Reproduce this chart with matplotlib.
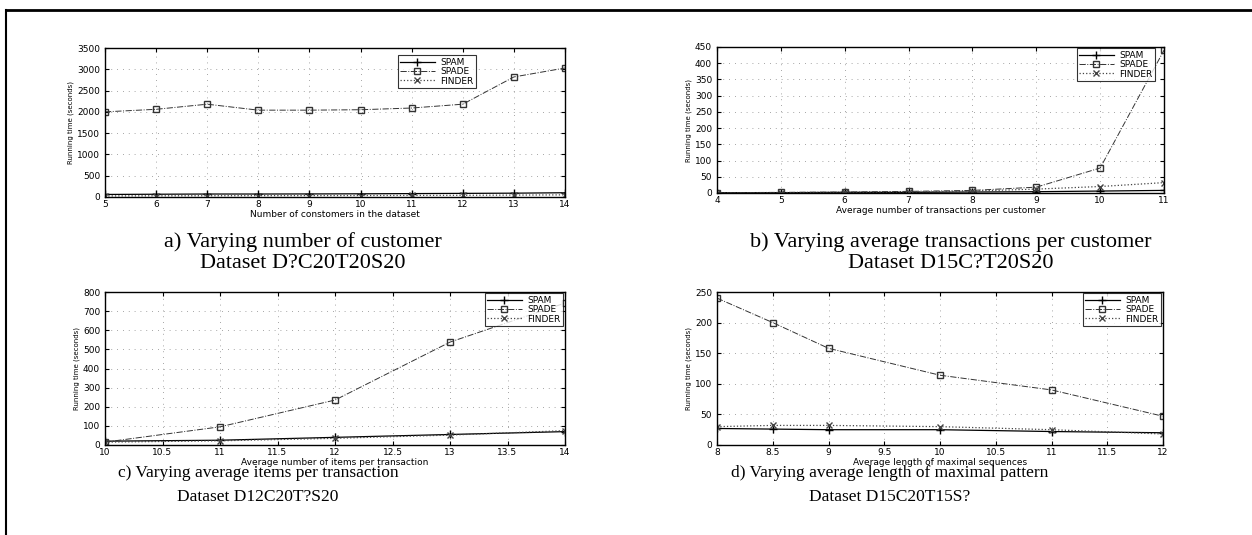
import matplotlib
matplotlib.use("Agg")
import matplotlib.pyplot as plt
from matplotlib.lines import Line2D
from matplotlib.ticker import FormatStrFormatter

# ---- data ----
a_x = [5, 6, 7, 8, 9, 10, 11, 12, 13, 14]
a_spam = [60, 65, 70, 70, 72, 75, 80, 85, 90, 100]
a_spade = [2000, 2060, 2180, 2040, 2040, 2050, 2090, 2180, 2820, 3030]
a_finder = [25, 28, 30, 32, 33, 35, 38, 40, 45, 50]

b_x = [4, 5, 6, 7, 8, 9, 10, 11]
b_spam = [1, 1, 2, 2, 3, 4, 6, 8]
b_spade = [1, 2, 3, 5, 8, 18, 77, 440]
b_finder = [1, 1, 2, 3, 6, 12, 20, 32]

c_x = [10, 11, 12, 13, 14]
c_spam = [20, 25, 40, 55, 70]
c_spade = [15, 95, 235, 538, 742]
c_finder = [15, 22, 35, 52, 75]

d_x = [8, 8.5, 9, 10, 11, 12]
d_spam = [27, 26, 25, 25, 22, 20]
d_spade = [240, 200, 158, 114, 90, 47]
d_finder = [30, 32, 32, 30, 25, 18]

series_names = ["SPAM", "SPADE", "FINDER"]

a_title = ["a) Varying number of customer", "Dataset D?C20T20S20"]
b_title = ["b) Varying average transactions per customer", "Dataset D15C?T20S20"]
c_title = ["c) Varying average items per transaction", "Dataset D12C20T?S20"]
d_title = ["d) Varying average length of maximal pattern", "Dataset D15C20T15S?"]

a_xlabel = "Number of constomers in the dataset"
b_xlabel = "Average number of transactions per customer"
c_xlabel = "Average number of items per transaction"
d_xlabel = "Average length of maximal sequences"
ylabel = "Running time (seconds)"

# ---- figure ----
fig = plt.figure(figsize=(12.52, 5.35), dpi=100)
W, H = 1252, 535

def rect(x0, y0, x1, y1):
    return [x0 / W, 1 - y1 / H, (x1 - x0) / W, (y1 - y0) / H]

styles = [
    dict(color="black", linestyle="-", marker="+", markersize=6, linewidth=0.9),
    dict(color="#333333", linestyle="-.", marker="s", markersize=4, markerfacecolor="none", linewidth=0.7),
    dict(color="#444444", linestyle=":", marker="x", markersize=4, linewidth=0.9),
]

def panel(r, x, ys, xlim, ylim, xticks, yticks, xlabel, leg_box):
    ax = fig.add_axes(r)
    for y, st, name in zip(ys, styles, series_names):
        ax.plot(x, y, label=name, **st)
    ax.set_xlim(*xlim)
    ax.set_ylim(*ylim)
    ax.set_xticks(xticks)
    ax.set_yticks(yticks)
    ax.xaxis.set_major_formatter(FormatStrFormatter("%g"))
    ax.grid(True, linestyle=(0, (1, 6)), color="#888888", linewidth=0.6)
    ax.tick_params(direction="in", top=True, right=True, labelsize=6.5, length=3)
    ax.tick_params(axis="x", pad=2.5)
    ax.tick_params(axis="y", pad=3.5)
    ax.set_xlabel(xlabel, fontsize=6.5, labelpad=0.5)
    ax.set_ylabel(ylabel, fontsize=5, labelpad=2)
    for s in ax.spines.values():
        s.set_linewidth(1.0)
    # legend box given in pixel coords (x0, y0, x1, y1)
    x0, y0, x1, y1 = leg_box
    leg = ax.legend(loc="upper right", bbox_to_anchor=(x1 / W, 1 - y0 / H),
                    bbox_transform=fig.transFigure, fontsize=6.5, frameon=True,
                    fancybox=False, edgecolor="black", handlelength=3.8,
                    borderpad=0.3, labelspacing=0.05, borderaxespad=0.0,
                    handletextpad=0.6)
    leg.get_frame().set_linewidth(0.8)
    return ax

panel(rect(105, 48, 565, 197), a_x, [a_spam, a_spade, a_finder], (5, 14), (0, 3500),
      a_x, list(range(0, 3501, 500)), a_xlabel, (377, 55, 476, 88))
panel(rect(717, 47, 1164, 193), b_x, [b_spam, b_spade, b_finder], (4, 11), (0, 450),
      b_x, list(range(0, 451, 50)), b_xlabel, (1059, 48, 1155, 82))
panel(rect(105, 292, 565, 445), c_x, [c_spam, c_spade, c_finder], (10, 14), (0, 800),
      [10, 10.5, 11, 11.5, 12, 12.5, 13, 13.5, 14], list(range(0, 801, 100)), c_xlabel,
      (455, 293, 563, 326))
panel(rect(717, 292, 1163, 445), d_x, [d_spam, d_spade, d_finder], (8, 12), (0, 250),
      [8, 8.5, 9, 9.5, 10, 10.5, 11, 11.5, 12], list(range(0, 251, 50)), d_xlabel,
      (1058, 293, 1161, 328))

def caption(cx, y1, y2, lines, fs):
    for yy, line in zip((y1, y2), lines):
        fig.text(cx / W, 1 - yy / H, line, ha="center", va="center", fontsize=fs,
                 family=["Liberation Serif", "DejaVu Serif"])

caption(303, 242, 263, a_title, 16)
caption(951, 242, 263, b_title, 16)
caption(258, 473, 497, c_title, 12.5)
caption(890, 473, 497, d_title, 12.5)

# outer frame
fig.add_artist(Line2D([6 / W, 6 / W], [1 - 10 / H, 0], transform=fig.transFigure,
                      color="black", linewidth=1.5))
fig.add_artist(Line2D([6 / W, 1], [1 - 10 / H, 1 - 10 / H], transform=fig.transFigure,
                      color="black", linewidth=2))

fig.savefig("out.png", dpi=100)
